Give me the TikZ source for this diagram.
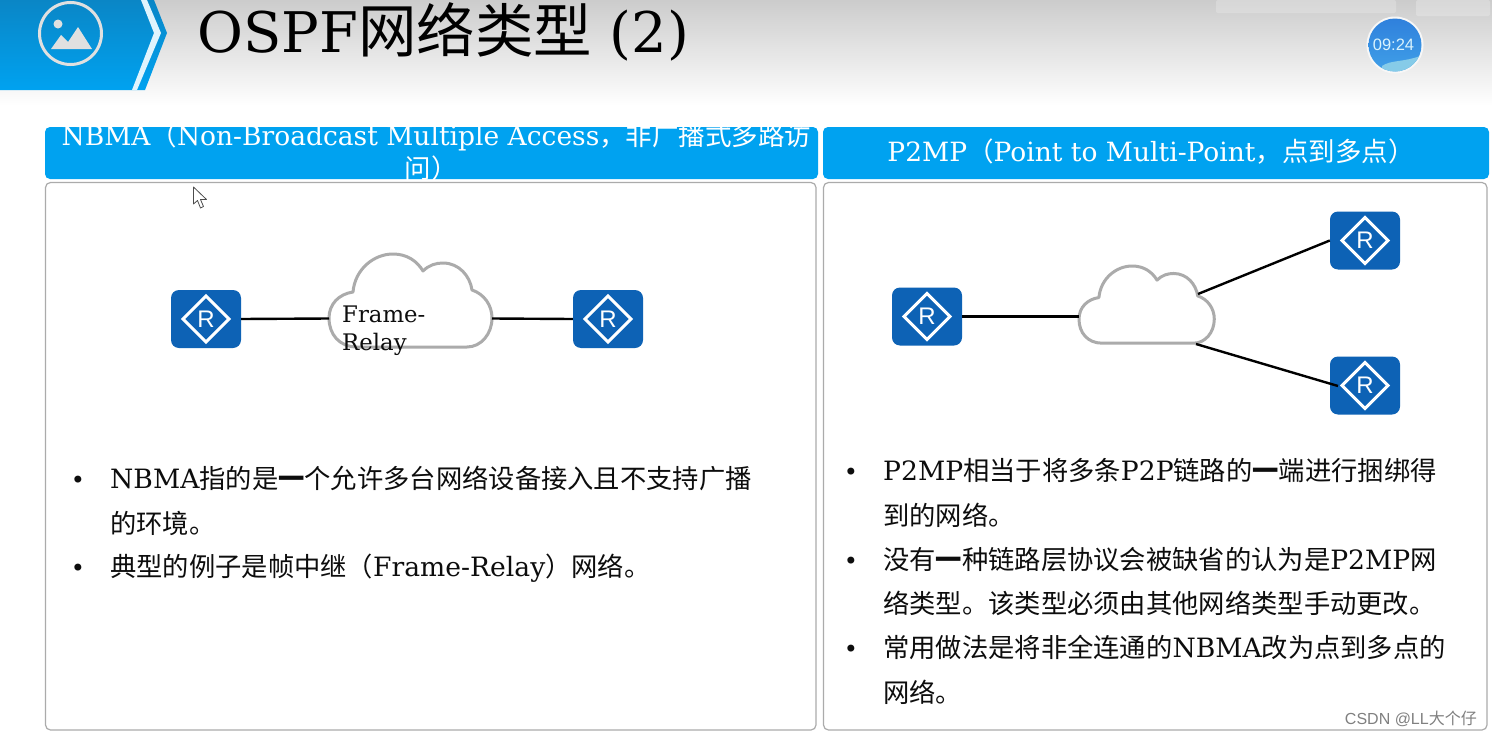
\documentclass[tikz,border=0pt]{standalone}
\usepackage{fontspec}
\usetikzlibrary{shapes.geometric,calc}
\setmainfont{Noto Sans CJK SC}
\newfontfamily\latf{DejaVu Serif}
\newfontfamily\sansf{Liberation Sans}
\newcommand\La[1]{{\latf\FS{26.6}#1}}
\newcommand\Lh[1]{{\latf #1}}
\newcommand\Yi{{\bfseries 一}}
\newcommand\FS[1]{\fontsize{#1}{#1}\selectfont}
\definecolor{hdr}{HTML}{00A2F0}
\definecolor{tabtop}{HTML}{0A86C6}
\definecolor{rtr}{HTML}{0D62B5}
\definecolor{cloudc}{HTML}{ABABAB}
\definecolor{panelb}{HTML}{ABABAB}
\definecolor{clocka}{HTML}{2F80DC}
\definecolor{clockb}{HTML}{40A0E8}
\definecolor{clockc}{HTML}{86CBE8}
\tikzset{
  titletxt/.style={anchor=base west,inner sep=0pt,text=black},
  hdrtxt/.style={anchor=base,inner sep=0pt,font=\FS{26.5},text=white},
  bodytxt/.style={anchor=base west,inner sep=0pt,font=\FS{26.3},text=black!95},
  bul/.style={anchor=base,inner sep=0pt,font=\latf\FS{24},text=black!95},
  hdrbox/.style={fill=hdr,rounded corners=5pt},
  panel/.style={draw=panelb,line width=1.2pt,fill=white,rounded corners=5pt},
  routerbox/.style={fill=rtr,rounded corners=8pt,minimum width=70pt,minimum height=58pt,inner sep=0pt},
  link/.style={line width=2.4pt,black},
  cloudline/.style={draw=cloudc,line width=3pt,fill=white,line join=round},
}
\newcommand\router[2]{%
  \node[routerbox] (#1) at (#2) {};
  \draw[white,line width=3pt,line join=miter] ($(#1.center)+(-23,0)$) -- ($(#1.center)+(0,-23)$) -- ($(#1.center)+(23,0)$) -- ($(#1.center)+(0,23)$) -- cycle;
  \node[inner sep=0pt,text=white,font=\sansf\FS{24}] at (#1.center) {R};
}
\newcommand\cloudpath[3]{%
  \begin{scope}[shift={(#1,#2)},scale=#3]
  \draw[cloudline] (28,93) .. controls (10,93) and (0,80) .. (0,64)
    .. controls (0,50) and (10,40) .. (24,38)
    .. controls (26,15) and (45,0) .. (64,0)
    .. controls (78,0) and (88,7) .. (94,17)
    .. controls (100,11) and (107,9) .. (114,9)
    .. controls (130,9) and (141,22) .. (143,36)
    .. controls (155,40) and (163,51) .. (163,64)
    .. controls (163,80) and (152,93) .. (138,93) -- cycle;
  \end{scope}
}
\begin{document}
\begin{tikzpicture}[x=1pt,y=-1pt]
\useasboundingbox (0,0) rectangle (1492,736);
\fill[white] (0,0) rectangle (1492,736);
% title band
\shade[top color=black!20,bottom color=white] (0,0) rectangle (1492,106);
\fill[black!6,opacity=.35,rounded corners=2pt] (1416,0) rectangle (1490,16);
\fill[black!5,opacity=.3,rounded corners=2pt] (1216,0) rectangle (1396,13);
% blue tab
\shade[top color=tabtop,bottom color=hdr] (0,0) -- (154,0) -- (167,33) -- (145,90) -- (0,90) -- cycle;
\fill[white!88!hdr] (141,0) -- (147,0) -- (161,33) -- (137,90) -- (132,90) -- (154,33) -- cycle;
% icon
\draw[black!12,line width=3pt] (70.5,33.5) circle (31);
\fill[black!12] (58,24) circle (4.5);
\fill[black!12] (51,49) -- (61,35) -- (68,42) -- (78,27) -- (92,49) -- cycle;
% title
\node[titletxt] (title) at (197,52) {\latf\FS{56}OSPF\rmfamily\FS{58.5}网络类型\latf\FS{56} (2)};
% clock
\fill[black!3] (1395,45) circle (28.5);
\shade[top color=clocka,bottom color=clockb] (1395,45) circle (26.5);
\begin{scope}
\clip (1395,45) circle (26.5);
\fill[clockc] (1382,66) .. controls (1390,60) and (1405,62) .. (1420,56) -- (1420,75) -- (1382,75) -- cycle;
\end{scope}
\node[inner sep=0pt,text=white!85!cyan,font=\sansf\FS{16.5}] (clock) at (1393.5,45) {09:24};
% headers
\path[hdrbox] (45,127) rectangle (818,179);
\path[hdrbox] (823,127) rectangle (1489,179);
\node[hdrtxt] (h1) at (436.5,145) {\Lh{NBMA}（\Lh{Non-Broadcast Multiple Access}，非广播式多路访};
\node[hdrtxt] (h1b) at (431,178) {问）};
\node[hdrtxt] (h2) at (1151,161) {\Lh{P2MP}（\Lh{Point to Multi-Point}，点到多点）};
% panels
\path[panel] (45.5,182.5) rectangle (816,730);
\path[panel] (823.5,182.5) rectangle (1487,730);
% cursor
\draw[black!70,fill=white,line width=.8pt,line join=round] (193.5,187) -- (193.5,204) -- (197.5,200.5) -- (200.5,208) -- (203.5,206.5) -- (200.5,199.5) -- (206.5,199.5) -- cycle;
% left diagram
\cloudpath{329}{254}{1}
\coordinate (c1w) at (329,318.5);
\coordinate (c1e) at (492,318.5);
\router{r1}{206,319}
\router{r2}{608,319}
\draw[link] (r1.east) -- (c1w);
\draw[link] (c1e) -- (r2.west);
\node[anchor=base west,inner sep=0pt,font=\latf\FS{22.8},text=black!95] (fr1) at (342,322) {Frame-};
\node[anchor=base west,inner sep=0pt,font=\latf\FS{22.8},text=black!95] (fr2) at (342,350) {Relay};
% right diagram
\cloudpath{1079}{266}{0.83}
\coordinate (c2w) at (1079,316.5);
\coordinate (c2a) at (1198,294);
\coordinate (c2b) at (1196,344);
\coordinate (r5in) at (1338,386);
\router{r3}{927,316.5}
\router{r4}{1365,240.5}
\router{r5}{1365,385.5}
\draw[link] (r3.east) -- (c2w);
\draw[link] (c2a) -- (r4.west);
\draw[link] (c2b) -- (r5in);
% left bullets
\node[bul] (b1) at (78,488) {•};
\node[bodytxt] (t1) at (110,488) {\La{NBMA}指的是\Yi 个允许多台网络设备接入且不支持广播};
\node[bodytxt] (t1b) at (110,533) {的环境。};
\node[bul] (b2) at (78,576) {•};
\node[bodytxt] (t2) at (110,576) {典型的例子是帧中继（\La{Frame-Relay}）网络。};
% right bullets
\node[bul] (b3) at (851,480) {•};
\node[bodytxt] (t3) at (883,480) {\La{P2MP}相当于将多条\La{P2P}链路的\Yi 端进行捆绑得};
\node[bodytxt] (t3b) at (883,525) {到的网络。};
\node[bul] (b4) at (851,569) {•};
\node[bodytxt] (t4) at (883,569) {没有\Yi 种链路层协议会被缺省的认为是\La{P2MP}网};
\node[bodytxt] (t4b) at (883,613) {络类型。该类型必须由其他网络类型手动更改。};
\node[bul] (b5) at (851,657) {•};
\node[bodytxt] (t5) at (883,657) {常用做法是将非全连通的\La{NBMA}改为点到多点的};
\node[bodytxt] (t5b) at (883,702) {网络。};
% watermark
\node[anchor=base east,inner sep=0pt,text=black!50,font=\FS{16}] (wm) at (1477,724) {{\sansf CSDN @LL}大个仔};
\end{tikzpicture}
\end{document}
